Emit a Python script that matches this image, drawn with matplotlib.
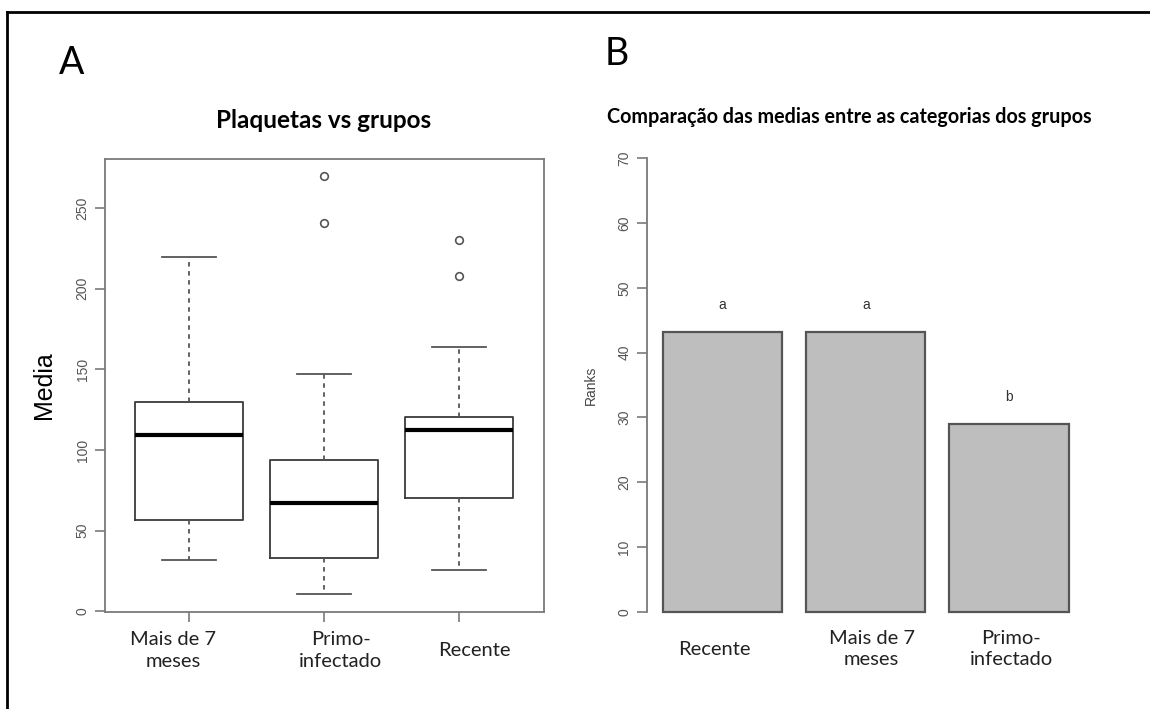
import matplotlib
matplotlib.use("Agg")
import matplotlib.pyplot as plt
from matplotlib.lines import Line2D

# boxplot: platelets by group
grupos = ["Mais de 7\nmeses", "Primo-\ninfectado", "Recente"]
whis_lo = [31.8, 10.8, 25.4]
q1 = [56.4, 33.0, 70.3]
mediana = [109.5, 67.2, 112.2]
q3 = [129.7, 94.0, 120.4]
whis_hi = [219.6, 147.0, 164.0]
outliers = [[], [240.6, 270.1], [207.6, 229.9]]

# barplot: mean ranks by group
cats_rank = ["Recente", "Mais de 7\nmeses", "Primo-\ninfectado"]
ranks = [43.2, 43.2, 29.0]
letras = ["a", "a", "b"]

axis_col = "#7a7a7a"
tick_col = "#555555"
line_col = "#3a3a3a"
word_font = ["Lato", "DejaVu Sans"]
r_font = ["Liberation Sans", "DejaVu Sans"]

fig = plt.figure(figsize=(11.5, 7.09), dpi=100)
W, H = 1150, 709

def box_px(x0, y0, x1, y1):
    return [x0 / W, 1 - y1 / H, (x1 - x0) / W, (y1 - y0) / H]

# ---------- A ----------
ax1 = fig.add_axes(box_px(105, 159, 544, 612))
stats = []
for i in range(3):
    stats.append(dict(med=mediana[i], q1=q1[i], q3=q3[i],
                      whislo=whis_lo[i], whishi=whis_hi[i], fliers=outliers[i]))
ax1.bxp(stats, positions=[1, 2, 3], widths=0.8, capwidths=0.4,
        boxprops=dict(color=line_col, linewidth=1.3),
        whiskerprops=dict(color="#555555", linewidth=1.3, linestyle=(0, (2.5, 2.5))),
        capprops=dict(color="#555555", linewidth=1.3),
        medianprops=dict(color="black", linewidth=3),
        flierprops=dict(marker="o", markersize=5.5, markerfacecolor="none",
                        markeredgecolor="#555555", markeredgewidth=1.2))
ax1.set_xlim(0.376, 3.627)
ax1.set_ylim(-0.4, 280.4)
ax1.set_yticks([0, 50, 100, 150, 200, 250])
ax1.set_xticks([1, 2, 3])
ax1.set_xticklabels([])
for s in ax1.spines.values():
    s.set_color(axis_col)
    s.set_linewidth(1.3)
ax1.tick_params(axis="both", colors=axis_col, length=7, width=1.2, labelcolor=tick_col)
ax1.tick_params(axis="y", labelsize=10, pad=4)
for lab in ax1.get_yticklabels():
    lab.set_rotation(90)
    lab.set_va("center")
    lab.set_family(r_font)
ax1.set_ylabel("Media", fontsize=18, family=r_font, labelpad=14)

lab_x1 = [0.88, 2.12, 3.11]
for x, t in zip(lab_x1, grupos):
    ax1.text(x, -0.085, t, transform=ax1.get_xaxis_transform(), ha="center",
             va="center", fontsize=14.5, family=word_font, linespacing=1.3,
             color="#222222")

fig.text(324 / W, 1 - 121 / H, "Plaquetas vs grupos", ha="center", va="center",
         fontsize=17.5, fontweight="bold", family=word_font)

# ---------- B ----------
ax2 = fig.add_axes(box_px(646.5, 140.2, 1085, 629.8))
pos = [0.7, 1.9, 3.1]
ax2.bar(pos, ranks, width=1.0, color="#bebebe", edgecolor="#555555", linewidth=1.6)
for x, v, l in zip(pos, ranks, letras):
    ax2.text(x, v + 4.2, l, ha="center", va="center", fontsize=10,
             family=r_font, color="#333333")
ax2.set_xlim(0.064, 3.736)
ax2.set_ylim(-2.8, 72.8)
ax2.set_yticks(range(0, 71, 10))
ax2.set_xticks([])
for k in ["top", "right", "bottom"]:
    ax2.spines[k].set_visible(False)
ax2.spines["left"].set_bounds(0, 70)
ax2.spines["left"].set_color(axis_col)
ax2.spines["left"].set_linewidth(1.3)
ax2.tick_params(axis="y", colors=axis_col, length=7, width=1.2,
                labelcolor=tick_col, labelsize=10, pad=4)
for lab in ax2.get_yticklabels():
    lab.set_rotation(90)
    lab.set_va("center")
    lab.set_family(r_font)
ax2.set_ylabel("Ranks", fontsize=10, family=r_font, color="#444444", labelpad=14)

lab_x2 = [0.63, 1.95, 3.12]
for x, t in zip(lab_x2, cats_rank):
    ax2.text(x, -0.04, t, transform=ax2.get_xaxis_transform(), ha="center",
             va="center", fontsize=14.5, family=word_font, linespacing=1.3,
             color="#222222")

fig.text(849 / W, 1 - 117 / H, "Comparação das medias entre as categorias dos grupos",
         ha="center", va="center", fontsize=14.2, fontweight="bold", family=word_font)

# panel letters
fig.text(72 / W, 1 - 63 / H, "A", ha="center", va="center", fontsize=27, family=word_font)
fig.text(617 / W, 1 - 54 / H, "B", ha="center", va="center", fontsize=27, family=word_font)

# frame lines (top and left)
fig.add_artist(Line2D([7 / W, 1], [1 - 12 / H, 1 - 12 / H], transform=fig.transFigure,
                      color="black", linewidth=2))
fig.add_artist(Line2D([7 / W, 7 / W], [0, 1 - 12 / H], transform=fig.transFigure,
                      color="black", linewidth=2))

fig.savefig("out.png", dpi=100, facecolor="white")
